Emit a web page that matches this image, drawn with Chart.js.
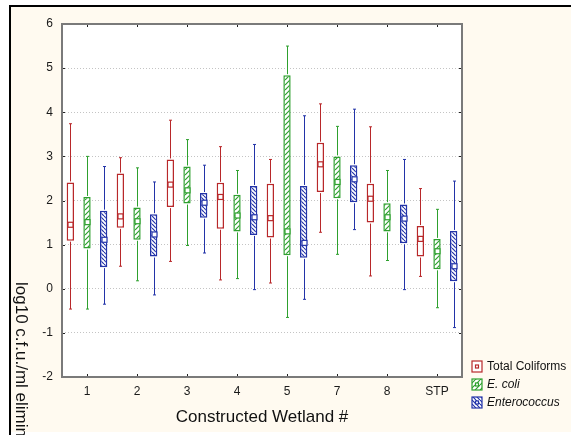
<!DOCTYPE html>
<html>
<head>
<meta charset="utf-8">
<script src="https://cdn.jsdelivr.net/npm/chart.js@4.4.1/dist/chart.umd.min.js"></script>
<style>
  html, body { margin: 0; padding: 0; background: #fff; }
</style>
</head>
<body>
<canvas id="myChart" width="571" height="435"></canvas>
<script>
const categorias = ["1", "2", "3", "4", "5", "7", "8", "STP"];
const nombresSeries = ["Total Coliforms", "E. coli", "Enterococcus"];
const ticksY = [-2, -1, 0, 1, 2, 3, 4, 5, 6];

// Total Coliforms
const coliMin = [-0.46, 0.51, 0.62, 0.2, 0.13, 1.28, 0.29, 0.28];
const coliQ1 = [1.09, 1.38, 1.85, 1.36, 1.16, 2.19, 1.5, 0.73];
const coliMedia = [1.45, 1.64, 2.36, 2.08, 1.6, 2.82, 2.04, 1.13];
const coliQ3 = [2.41, 2.61, 2.93, 2.4, 2.38, 3.31, 2.38, 1.42];
const coliMax = [3.74, 2.97, 3.82, 3.22, 2.93, 4.19, 3.67, 2.27];

// E. coli
const ecoliMin = [-0.46, 0.18, 0.98, 0.23, -0.65, 0.78, 0.64, -0.43];
const ecoliQ1 = [0.91, 1.11, 1.93, 1.3, 0.76, 2.05, 1.3, 0.44];
const ecoliMedia = [1.51, 1.53, 2.23, 1.66, 1.3, 2.42, 1.62, 0.85];
const ecoliQ3 = [2.08, 1.84, 2.77, 2.13, 4.84, 3.0, 1.94, 1.13];
const ecoliMax = [3.0, 2.74, 3.38, 2.68, 5.5, 3.68, 2.68, 1.8];

// Enterococcus
const enteroMin = [-0.35, -0.14, 0.81, -0.02, -0.24, 1.34, -0.02, -0.88];
const enteroQ1 = [0.49, 0.73, 1.61, 1.22, 0.7, 1.96, 1.03, 0.17];
const enteroMedia = [1.11, 1.23, 1.95, 1.62, 1.04, 2.48, 1.59, 0.51];
const enteroQ3 = [1.77, 1.69, 2.17, 2.33, 2.33, 2.8, 1.91, 1.31];
const enteroMax = [2.77, 2.42, 2.8, 3.27, 3.92, 4.07, 2.93, 2.44];

const rojo = "#b8282a";
const verde = "#2ea02e";
const azul = "#2233a8";
const fuente = "'Liberation Sans', Arial, sans-serif";

const crearPatron = (color, sentido, paso) => {
  const c = document.createElement("canvas");
  c.width = paso;
  c.height = paso;
  const ctx = c.getContext("2d");
  ctx.fillStyle = "#fff";
  ctx.fillRect(0, 0, paso, paso);
  ctx.strokeStyle = color;
  ctx.lineWidth = 1.2;
  ctx.beginPath();
  for (const d of [-paso, 0, paso]) {
    if (sentido > 0) {
      ctx.moveTo(d, paso);
      ctx.lineTo(d + paso, 0);
    } else {
      ctx.moveTo(d, 0);
      ctx.lineTo(d + paso, paso);
    }
  }
  ctx.stroke();
  return ctx.createPattern(c, "repeat");
};

const patronVerde = crearPatron(verde, 1, 5);
const patronAzul = crearPatron(azul, -1, 4);

const series = [
  { nombre: nombresSeries[0], color: rojo, fondo: "#fff", min: coliMin, q1: coliQ1, media: coliMedia, q3: coliQ3, max: coliMax, italica: false },
  { nombre: nombresSeries[1], color: verde, fondo: patronVerde, min: ecoliMin, q1: ecoliQ1, media: ecoliMedia, q3: ecoliQ3, max: ecoliMax, italica: true },
  { nombre: nombresSeries[2], color: azul, fondo: patronAzul, min: enteroMin, q1: enteroQ1, media: enteroMedia, q3: enteroQ3, max: enteroMax, italica: true },
];

const crearDataset = (s) => ({
  label: s.nombre,
  data: s.q1.map((q, i) => [q, s.q3[i]]),
  backgroundColor: s.fondo,
  borderColor: s.color,
  borderWidth: 1.5,
  borderSkipped: false,
  barPercentage: 0.44,
  categoryPercentage: 1,
});

const dibujoCajas = {
  id: "dibujoCajas",
  beforeDraw(chart) {
    const ctx = chart.ctx;
    ctx.save();
    ctx.fillStyle = "#fff";
    ctx.fillRect(0, 0, chart.width, chart.height);
    ctx.fillStyle = "#fffaf0";
    ctx.fillRect(10, 5, chart.width - 10, 427);
    ctx.fillStyle = "#000";
    ctx.fillRect(9, 5, chart.width - 9, 2);
    ctx.fillRect(9, 5, 2, chart.height - 5);
    const a = chart.chartArea;
    ctx.fillStyle = "#fff";
    ctx.fillRect(a.left, a.top, a.right - a.left, a.bottom - a.top);
    ctx.restore();
  },
  afterDatasetsDraw(chart) {
    const ctx = chart.ctx;
    const y = chart.scales.y;
    const x = chart.scales.x;
    const a = chart.chartArea;
    ctx.save();

    series.forEach((s, d) => {
      const meta = chart.getDatasetMeta(d);
      meta.data.forEach((barra, i) => {
        const cx = Math.round(barra.x) + 0.5;
        const yMin = y.getPixelForValue(s.min[i]);
        const yQ1 = y.getPixelForValue(s.q1[i]);
        const yQ3 = y.getPixelForValue(s.q3[i]);
        const yMax = y.getPixelForValue(s.max[i]);
        const yMedia = y.getPixelForValue(s.media[i]);
        ctx.strokeStyle = s.color;
        ctx.lineWidth = 1;
        ctx.beginPath();
        ctx.moveTo(cx, yQ3 - 1);
        ctx.lineTo(cx, yMax);
        ctx.moveTo(cx, yQ1 + 1);
        ctx.lineTo(cx, yMin);
        ctx.moveTo(cx - 1.5, yMax);
        ctx.lineTo(cx + 1.5, yMax);
        ctx.moveTo(cx - 1.5, yMin);
        ctx.lineTo(cx + 1.5, yMin);
        ctx.stroke();
        ctx.fillStyle = "#fff";
        ctx.fillRect(cx - 2.5, yMedia - 2.5, 5, 5);
        ctx.lineWidth = 1.2;
        ctx.strokeRect(cx - 2.5, yMedia - 2.5, 5, 5);
      });
    });

    // marco y marcas interiores
    ctx.strokeStyle = "#222";
    ctx.lineWidth = 1;
    ctx.beginPath();
    x.ticks.forEach((t, i) => {
      const px = Math.round(x.getPixelForTick(i)) + 0.5;
      ctx.moveTo(px, a.top);
      ctx.lineTo(px, a.top + 3);
      ctx.moveTo(px, a.bottom);
      ctx.lineTo(px, a.bottom - 3);
    });
    ticksY.forEach((v) => {
      const py = Math.round(y.getPixelForValue(v)) + 0.5;
      ctx.moveTo(a.left, py);
      ctx.lineTo(a.left + 3, py);
      ctx.moveTo(a.right, py);
      ctx.lineTo(a.right - 3, py);
    });
    ctx.stroke();

    ctx.strokeStyle = "#7a7a7a";
    ctx.lineWidth = 2;
    ctx.strokeRect(a.left, a.top, a.right - a.left, a.bottom - a.top);
    ctx.restore();
  },
  afterDraw(chart) {
    const ctx = chart.ctx;
    ctx.save();
    ctx.fillStyle = "#111";
    ctx.font = `17px ${fuente}`;
    ctx.textAlign = "center";
    ctx.textBaseline = "middle";
    const a = chart.chartArea;
    ctx.fillText("Constructed Wetland #", (a.left + a.right) / 2, 417);

    ctx.translate(21, 282);
    ctx.rotate(Math.PI / 2);
    ctx.textAlign = "left";
    ctx.fillText("log10 c.f.u./ml eliminated", 0, 0);
    ctx.restore();

    // leyenda
    ctx.save();
    series.forEach((s, i) => {
      const ly = 361 + i * 18;
      ctx.fillStyle = s.fondo;
      ctx.fillRect(472, ly, 10, 11);
      ctx.strokeStyle = s.color;
      ctx.lineWidth = 1.2;
      ctx.strokeRect(472, ly, 10, 11);
      ctx.fillStyle = "#fff";
      ctx.fillRect(475.5, ly + 4, 3, 3);
      ctx.strokeRect(475.5, ly + 4, 3, 3);
      ctx.fillStyle = "#111";
      ctx.font = `${s.italica ? "italic " : ""}12px ${fuente}`;
      ctx.textAlign = "left";
      ctx.textBaseline = "middle";
      ctx.fillText(s.nombre, 487, ly + 6);
    });
    ctx.restore();
  },
};

const myChart = document.getElementById("myChart");

const grafico = new Chart(myChart, {
  type: "bar",
  data: {
    labels: categorias,
    datasets: series.map(crearDataset),
  },
  options: {
    responsive: false,
    animation: false,
    layout: { padding: { top: 24, right: 109, left: 0, bottom: 0 } },
    plugins: {
      legend: { display: false },
      tooltip: { enabled: false },
    },
    scales: {
      x: {
        grid: { display: false, drawTicks: false },
        border: { display: false },
        ticks: { font: { family: fuente, size: 12 }, color: "#1a1a1a", padding: 7 },
        afterFit: (s) => {
          s.height = 58;
        },
      },
      y: {
        min: -2,
        max: 6,
        afterBuildTicks: (s) => {
          s.ticks = ticksY.map((v) => ({ value: v }));
        },
        ticks: { font: { family: fuente, size: 12 }, color: "#1a1a1a", padding: 9 },
        grid: {
          drawTicks: false,
          color: (c) => (c.tick && (c.tick.value === -2 || c.tick.value === 6) ? "rgba(0,0,0,0)" : "#c4c4c4"),
          lineWidth: 1,
        },
        border: { display: false, dash: [1, 2] },
        afterFit: (s) => {
          s.width = 62;
        },
      },
    },
  },
  plugins: [dibujoCajas],
});
</script>
</body>
</html>
